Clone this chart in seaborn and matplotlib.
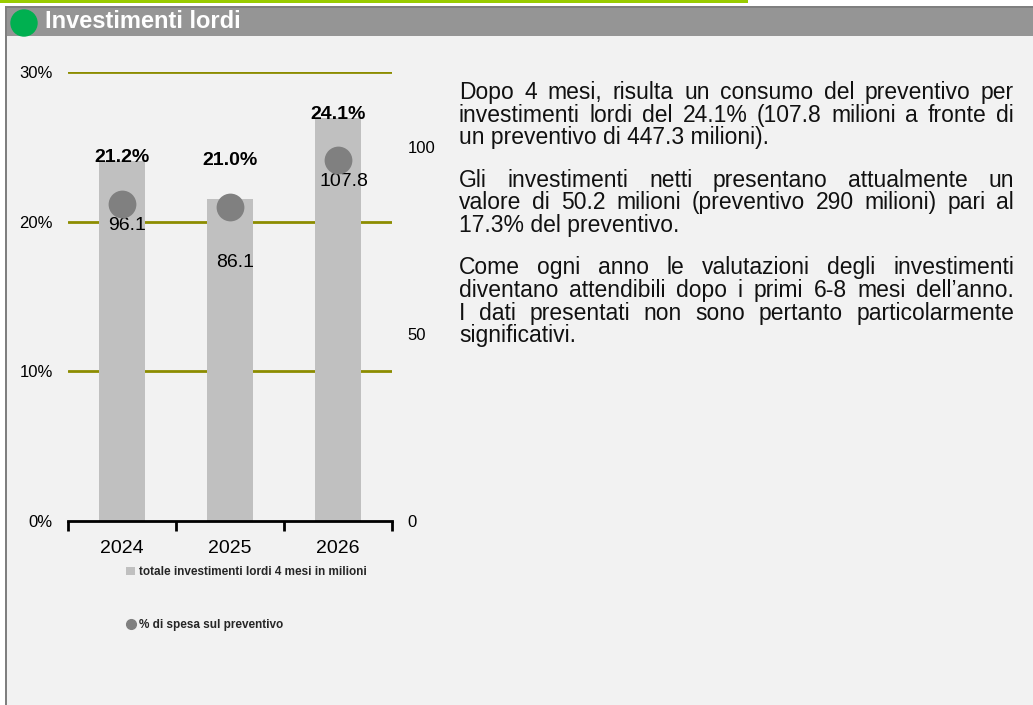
import matplotlib
matplotlib.use("Agg")
import matplotlib.pyplot as plt
import seaborn as sns
from matplotlib.patches import Rectangle, Circle, Patch
from matplotlib.lines import Line2D

# data
years = ["2024", "2025", "2026"]
invest_mio = [96.1, 86.1, 107.8]
pct_budget = [21.2, 21.0, 24.1]
pct_ticks = [0, 10, 20, 30]
mio_ticks = [0, 50, 100]
mio_max = 120
title = "Investimenti lordi"
legend_labels = ["totale investimenti lordi 4 mesi in milioni",
                 "% di spesa sul preventivo"]
paragraphs = [
    ["Dopo 4 mesi, risulta un consumo del preventivo per",
     "investimenti lordi del 24.1% (107.8 milioni a fronte di",
     "un preventivo di 447.3 milioni)."],
    ["Gli investimenti netti presentano attualmente un",
     "valore di 50.2 milioni (preventivo 290 milioni) pari al",
     "17.3% del preventivo."],
    ["Come ogni anno le valutazioni degli investimenti",
     "diventano attendibili dopo i primi 6-8 mesi dell\u2019anno.",
     "I dati presentati non sono pertanto particolarmente",
     "significativi."],
]

W, H = 1033, 705
BAR_C = "#c0c0c0"
DOT_C = "#808080"
GRID_C = "#8c8c00"

sns.set_theme(style="white")
plt.rcParams["font.family"] = ["Liberation Sans", "DejaVu Sans"]

fig = plt.figure(figsize=(W / 100, H / 100), dpi=100)
fig.patch.set_facecolor("white")


def box(x, y, w, h, color):
    # rectangle given in pixels from the top-left corner
    fig.patches.append(Rectangle((x / W, 1 - (y + h) / H), w / W, h / H,
                                 transform=fig.transFigure, color=color,
                                 lw=0, zorder=-5))


# frame, header and accent line
box(0, 0, 748, 3, "#99cc00")
box(5, 36, W - 5, H - 36, "#f2f2f2")
box(5, 6, W - 5, 30, "#959595")
box(5, 6, W - 5, 2, "#7f7f7f")
box(5, 6, 2, H - 6, "#7f7f7f")
fig.patches.append(Circle((24 / 100, (H - 23) / 100), 0.13,
                          transform=fig.dpi_scale_trans, color="#00b050",
                          zorder=-4))
fig.text(45 / W, 1 - 28 / H, title, color="white", fontsize=17,
         fontweight="bold", va="baseline", ha="left")

# chart
ax = fig.add_axes([68 / W, 1 - 521 / H, 324 / W, 449 / H])
ax.set_facecolor("none")
sns.barplot(x=years, y=invest_mio, order=years, ax=ax, color=BAR_C,
            saturation=1, width=0.43, linewidth=0, zorder=2)
ax.set_ylim(0, mio_max)
pct_max = pct_ticks[-1]
for p in pct_ticks[1:]:
    ax.axhline(p * mio_max / pct_max, color=GRID_C, lw=2, zorder=0)

ax2 = ax.twinx()
ax2.set_facecolor("none")
sns.stripplot(x=years, y=pct_budget, order=years, ax=ax2, jitter=False,
              size=20, color=DOT_C, linewidth=0, zorder=3)
ax2.set_ylim(0, pct_max)

ax.set_xlim(-0.5, len(years) - 0.5)
ax.set_xticks(range(len(years)))
ax.set_xticklabels(years, fontsize=14)
ax.set_xticks([i - 0.5 for i in range(len(years) + 1)], minor=True)
ax.tick_params(axis="x", which="major", length=0, pad=14, colors="black")
ax.tick_params(axis="x", which="minor", length=7, width=2, color="black",
               direction="out", bottom=True)

ax.yaxis.tick_right()
ax.set_yticks(mio_ticks)
ax.set_yticklabels([str(v) for v in mio_ticks], fontsize=12)
ax.tick_params(axis="y", length=0, pad=11, colors="black")

ax2.yaxis.tick_left()
ax2.set_yticks(pct_ticks)
ax2.set_yticklabels([f"{v}%" for v in pct_ticks], fontsize=12)
ax2.tick_params(axis="y", length=0, pad=11, colors="black")

for a in (ax, ax2):
    a.set_xlabel("")
    a.set_ylabel("")
    for s in ("top", "left", "right"):
        a.spines[s].set_visible(False)
ax2.spines["bottom"].set_visible(False)
ax.spines["bottom"].set_color("black")
ax.spines["bottom"].set_linewidth(2)

for i, (v, p) in enumerate(zip(invest_mio, pct_budget)):
    ax2.annotate(f"{p:.1f}%", (i, p), xytext=(0, 33),
                 textcoords="offset points", ha="center", va="center",
                 fontsize=14, fontweight="bold", color="black", zorder=5)
    ax.annotate(f"{v:.1f}", (i, v), xytext=(4, -46),
                textcoords="offset points", ha="center", va="center",
                fontsize=14, color="black", zorder=5)

handles = [Patch(color=BAR_C, lw=0),
           Line2D([], [], marker="o", ls="none", color=DOT_C, markersize=7)]
fig.legend(handles, legend_labels, loc="upper left",
           bbox_to_anchor=(126 / W, 1 - 566 / H), frameon=False,
           borderpad=0, borderaxespad=0, handlelength=0.8,
           handletextpad=0.3, labelspacing=3.5,
           prop={"size": 8.5, "weight": "bold"})

# justified text block on the right
renderer = fig.canvas.get_renderer()
x_left, x_right = 459, 1014
size = 16.5
y = 99
for para in paragraphs:
    for k, line in enumerate(para):
        yy = 1 - y / H
        if k == len(para) - 1:
            fig.text(x_left / W, yy, line, fontsize=size, va="baseline",
                     color="#111111")
        else:
            words = line.split(" ")
            items = [fig.text(0, yy, w_, fontsize=size, va="baseline",
                              color="#111111") for w_ in words]
            widths = [t.get_window_extent(renderer).width for t in items]
            gap = (x_right - x_left - sum(widths)) / (len(words) - 1)
            x = x_left
            for t, wd in zip(items, widths):
                t.set_x(x / W)
                x += wd + gap
        y += 22.7
    y += 19.5

fig.savefig("out.png", dpi=100)
